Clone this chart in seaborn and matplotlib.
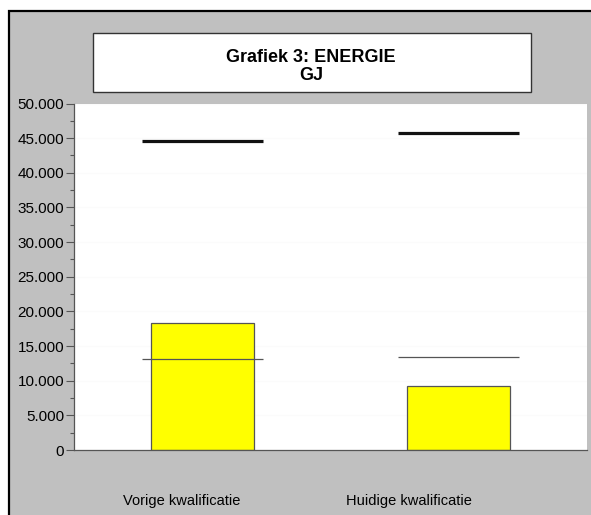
import matplotlib
matplotlib.use("Agg")
import matplotlib.pyplot as plt
from matplotlib.patches import Rectangle
from matplotlib.ticker import FuncFormatter, MultipleLocator
import seaborn as sns
import pandas as pd

categories = ["Vorige kwalificatie", "Huidige kwalificatie"]
bar_values = [18300, 9300]
thin_line_values = [13100, 13400]
thick_line_values = [44600, 45700]
title_lines = ["Grafiek 3: ENERGIE", "GJ"]
y_ticks = [0, 5000, 10000, 15000, 20000, 25000, 30000, 35000, 40000, 45000, 50000]

sns.set_theme(style="white")
plt.rcParams['font.family'] = ['Liberation Sans', 'DejaVu Sans']

W, H = 591, 515
fig = plt.figure(figsize=(W / 100, H / 100), dpi=100)
fig.patch.set_facecolor("white")

# gray panel with black top/left border
fig.patches.append(Rectangle((9.5 / W, -0.1), 1.2, (H - 10.5) / H + 0.1,
                             transform=fig.transFigure, facecolor="#c0c0c0",
                             edgecolor="black", lw=1.6, zorder=-5))

ax = fig.add_axes([74 / W, (H - 450) / H, (587 - 74) / W, (450 - 103.5) / H])
ax.set_facecolor("white")
ax.set_zorder(1)

df = pd.DataFrame({"cat": categories, "val": bar_values})
sns.barplot(data=df, x="cat", y="val", ax=ax, color="#ffff00", width=0.4,
            edgecolor="#555555", linewidth=0.9, saturation=1, zorder=2)

idx = list(range(len(categories)))
ax.hlines(thin_line_values, [i - 0.235 for i in idx], [i + 0.235 for i in idx],
          colors="#555555", lw=0.9, zorder=3)
ax.hlines(thick_line_values, [i - 0.235 for i in idx], [i + 0.235 for i in idx],
          colors="#111111", lw=2.3, zorder=3)

ax.set_xlim(-0.5, 1.5)
ax.set_ylim(0, 50000)
ax.set_yticks(y_ticks)
ax.yaxis.set_minor_locator(MultipleLocator(2500))
ax.yaxis.set_major_formatter(FuncFormatter(lambda v, p: f"{int(v):,}".replace(",", ".")))
ax.grid(axis="y", color="#fbfbfb", lw=0.8, zorder=0)
ax.set_axisbelow(True)
ax.tick_params(axis="y", which="major", left=True, length=6, width=0.8,
               color="#555555", labelsize=11, labelcolor="black", pad=1)
ax.tick_params(axis="y", which="minor", left=True, length=3, width=0.8, color="#555555")
ax.tick_params(axis="x", bottom=False, labelbottom=False)
ax.set_xlabel("")
ax.set_ylabel("")
for s in ["top", "right"]:
    ax.spines[s].set_visible(False)
for s in ["left", "bottom"]:
    ax.spines[s].set_color("#555555")
    ax.spines[s].set_linewidth(0.9)

# category labels
label_px = [181.5, 408.5]
for name, xp in zip(categories, label_px):
    fig.text(xp / W, 1 - 505 / H, name, ha="center", va="baseline", fontsize=10.5,
             color="black", zorder=5)

# title box
fig.patches.append(Rectangle((92.5 / W, 1 - 92 / H), (531 - 92.5) / W, 58.5 / H,
                             transform=fig.transFigure, facecolor="white",
                             edgecolor="#333333", lw=1.0, zorder=2))
fig.text(311 / W, 1 - 61.7 / H, title_lines[0], ha="center", va="baseline",
         fontsize=13, fontweight="bold", color="black", zorder=5)
fig.text(311 / W, 1 - 80 / H, title_lines[1], ha="center", va="baseline",
         fontsize=13, fontweight="bold", color="black", zorder=5)

fig.savefig("out.png", dpi=100, facecolor=fig.get_facecolor())
